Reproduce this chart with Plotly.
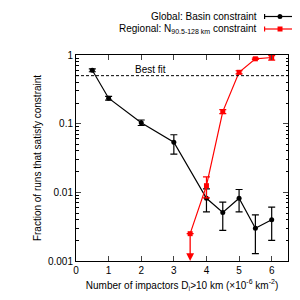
import plotly.graph_objects as go
import numpy as np

# ---- data ----
global_x = [0.5, 1, 2, 3, 4, 4.5, 5, 5.5, 6]
global_y = [0.6, 0.235, 0.103, 0.0536, 0.0082, 0.0051, 0.0082, 0.0030, 0.0040]
global_hi = [0.63, 0.25, 0.113, 0.069, 0.0112, 0.0072, 0.0110, 0.0047, 0.0061]
global_lo = [0.57, 0.22, 0.094, 0.036, 0.0052, 0.0028, 0.0052, 0.00128, 0.0020]

regional_x = [3.5, 4, 4.5, 5, 5.5, 6]
regional_y = [0.0025, 0.0125, 0.15, 0.56, 0.88, 0.92]
regional_hi = [0.0025, 0.0168, 0.16, 0.59, 0.90, 0.98]
regional_lo = [0.0025, 0.0083, 0.14, 0.53, 0.86, 0.84]
regional_offscale = [True, False, False, False, False, False]  # lower bound below plot

best_fit = 0.5
yticks = [0.001, 0.01, 0.1, 1]
ytick_text = ["0.001", "0.01", "0.1", "1"]
xticks = [0, 1, 2, 3, 4, 5, 6]
minor_y = [m * d for d in (0.001, 0.01, 0.1) for m in range(2, 10)]

FONT = "Liberation Sans, Arial, Helvetica, sans-serif"

fig = go.Figure()

def err(y, hi, lo):
    return [h - v for v, h in zip(y, hi)], [v - l for v, l in zip(y, lo)]

gp, gm = err(global_y, global_hi, global_lo)
fig.add_trace(go.Scatter(
    x=global_x, y=global_y, mode="lines+markers",
    line=dict(color="black", width=1.2),
    marker=dict(symbol="circle", size=5, color="black"),
    error_y=dict(type="data", symmetric=False, array=gp, arrayminus=gm,
                 color="black", thickness=1.2, width=3.5),
    showlegend=False))

rp, rm = err(regional_y, regional_hi, regional_lo)
fig.add_trace(go.Scatter(
    x=regional_x, y=regional_y, mode="lines+markers",
    line=dict(color="#ff0000", width=1.2),
    marker=dict(symbol="square", size=5, color="#ff0000"),
    error_y=dict(type="data", symmetric=False, array=rp, arrayminus=rm,
                 color="#ff0000", thickness=1.2, width=3.5),
    showlegend=False))

# off-scale lower limits drawn as arrows down to the axis
for x, y, off in zip(regional_x, regional_y, regional_offscale):
    if off:
        fig.add_annotation(x=x, y=np.log10(yticks[0]), ax=x, ay=np.log10(y),
                           xref="x", yref="y", axref="x", ayref="y",
                           showarrow=True, arrowhead=2, arrowsize=1.2,
                           arrowwidth=1.3, arrowcolor="#ff0000", text="")

# best fit line
fig.add_hline(y=best_fit, line=dict(color="black", width=1, dash="3px,2px"))
fig.add_annotation(x=2.27, y=np.log10(best_fit), yshift=6, text="Best fit",
                   showarrow=False, font=dict(size=10, color="black", family=FONT))

# ---- manual gnuplot-style legend (paper coords) ----
L, R, T, B = 67.7, 280.5, 47.0, 253.0
def px(p):
    return (p - L) / (R - L)
def py(p):
    return (B - p) / (B - T)

legend = [("Global: Basin constraint", "black", "circle", 8.5),
          ("Regional: N<sub>90.5-128 km</sub> constraint", "#ff0000", "square", 21)]
for text, col, sym, yy in legend:
    fig.add_annotation(x=px(251), y=py(yy), xref="paper", yref="paper",
                       xanchor="right", yanchor="middle", showarrow=False,
                       text=text, font=dict(size=10, color="black", family=FONT))
    fig.add_shape(type="line", xref="paper", yref="paper",
                  x0=px(257), x1=px(288), y0=py(yy), y1=py(yy),
                  line=dict(color=col, width=1.2))
    for xe in (257, 288):
        fig.add_shape(type="line", xref="paper", yref="paper",
                      x0=px(xe), x1=px(xe), y0=py(yy - 2.5), y1=py(yy + 2.5),
                      line=dict(color=col, width=1.2))
    if sym == "circle":
        fig.add_shape(type="circle", xref="paper", yref="paper",
                      x0=px(270), x1=px(275), y0=py(yy - 2.5), y1=py(yy + 2.5),
                      fillcolor=col, line=dict(color=col, width=0))
    else:
        fig.add_shape(type="rect", xref="paper", yref="paper",
                      x0=px(270), x1=px(275), y0=py(yy - 2.5), y1=py(yy + 2.5),
                      fillcolor=col, line=dict(color=col, width=0))

fig.update_xaxes(range=[0, 6.5], tickvals=xticks, ticks="inside", ticklen=5,
                 showline=True, linecolor="black", linewidth=1, mirror="ticks",
                 showgrid=False, zeroline=False,
                 tickfont=dict(size=10, color="black", family=FONT),
                 title=dict(text="Number of impactors D<sub>i</sub>>10 km (×10<sup>-6</sup> km<sup>-2</sup>)",
                            font=dict(size=10, color="black", family=FONT), standoff=6))
fig.update_yaxes(type="log", range=[-3, 0], tickvals=yticks, ticktext=ytick_text,
                 ticks="inside", ticklen=5, showline=True, linecolor="black",
                 linewidth=1, mirror="allticks", showgrid=False, zeroline=False,
                 minor=dict(tickvals=minor_y, ticks="inside", ticklen=2.5,
                            showgrid=False, tickcolor="black", tickwidth=1),
                 tickfont=dict(size=10, color="black", family=FONT),
                 title=dict(text="Fraction of runs that satisfy constraint",
                            font=dict(size=10, color="black", family=FONT), standoff=4))

fig.update_layout(width=300, height=300,
                  margin=dict(l=68, r=19.5, t=47, b=47),
                  paper_bgcolor="white", plot_bgcolor="white",
                  font=dict(family=FONT, size=10, color="black"),
                  showlegend=False)

fig.write_html("out.html")
